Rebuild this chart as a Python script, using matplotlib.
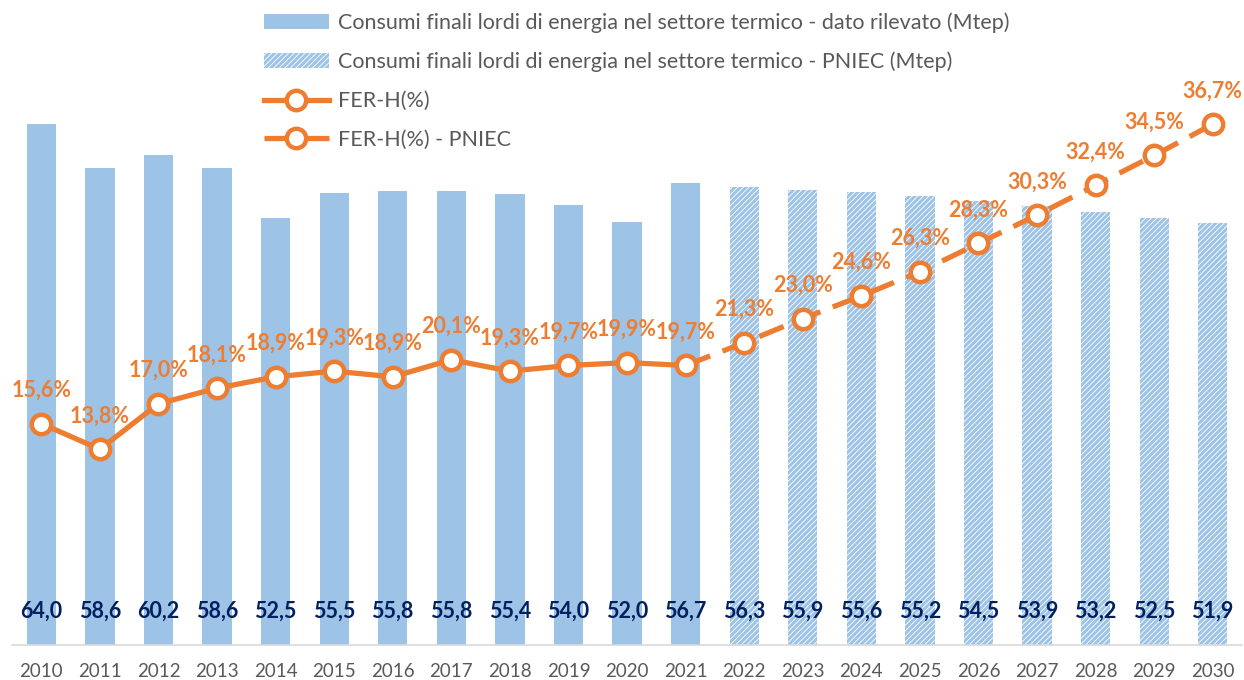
import numpy as np
import matplotlib
matplotlib.use("Agg")
import matplotlib.pyplot as plt

plt.rcParams['font.family'] = ['Lato', 'DejaVu Sans']
plt.rcParams['hatch.linewidth'] = 2.2

years = [str(y) for y in range(2010, 2031)]
consumi = [64.0, 58.6, 60.2, 58.6, 52.5, 55.5, 55.8, 55.8, 55.4, 54.0, 52.0, 56.7,
           56.3, 55.9, 55.6, 55.2, 54.5, 53.9, 53.2, 52.5, 51.9]
fer_h = [15.6, 13.8, 17.0, 18.1, 18.9, 19.3, 18.9, 20.1, 19.3, 19.7, 19.9, 19.7,
         21.3, 23.0, 24.6, 26.3, 28.3, 30.3, 32.4, 34.5, 36.7]
n_rilevato = 12  # 2010-2021 measured, then PNIEC

blue = '#9DC3E6'
orange = '#ED7D31'
navy = '#002060'
grey = '#595959'

x = np.arange(len(years))

fig = plt.figure(figsize=(12.44, 6.8), dpi=100)
ax1 = fig.add_axes([12 / 1244, 35 / 680, 1230 / 1244, 635 / 680])
ax2 = ax1.twinx()

b1 = ax1.bar(x[:n_rilevato], consumi[:n_rilevato], width=0.5, color=blue,
             linewidth=0, label='Consumi finali lordi di energia nel settore termico - dato rilevato (Mtep)')
b2 = ax1.bar(x[n_rilevato:], consumi[n_rilevato:], width=0.5, color='white',
             edgecolor=blue, hatch='//////', linewidth=0,
             label='Consumi finali lordi di energia nel settore termico - PNIEC (Mtep)')

for xi, v in zip(x, consumi):
    ax1.annotate(f'{v:.1f}'.replace('.', ','), (xi, 0), xytext=(0, 24),
                 textcoords='offset points', ha='center', va='center',
                 fontsize=15.5, fontweight='bold', color=navy)

ax1.set_xlim(-0.5, len(years) - 0.5)
ax1.set_ylim(0, 635 / 8.14)
ax1.set_xticks(x)
ax1.set_xticklabels(years, fontsize=13.5, color=grey)
ax1.tick_params(axis='x', length=0, pad=13)
ax1.set_yticks([])
for s in ['top', 'left', 'right']:
    ax1.spines[s].set_visible(False)
ax1.spines['bottom'].set_color('#D9D9D9')
ax1.spines['bottom'].set_linewidth(1.2)

l1, = ax2.plot(x[:n_rilevato], fer_h[:n_rilevato], color=orange, lw=3.8,
               marker='o', markersize=14, markerfacecolor='white',
               markeredgecolor=orange, markeredgewidth=3.2, label='FER-H(%)')
l2, = ax2.plot(x[n_rilevato - 1:], fer_h[n_rilevato - 1:], color=orange, lw=3.8,
               dashes=(5, 2.5), marker='o', markersize=14, markerfacecolor='white',
               markeredgecolor=orange, markeredgewidth=3.2,
               markevery=list(range(1, len(years) - n_rilevato + 1)),
               label='FER-H(%) - PNIEC')
l1.set_zorder(3)

for xi, v in zip(x, fer_h):
    ax2.annotate(f'{v:.1f}%'.replace('.', ','), (xi, v), xytext=(0, 24),
                 textcoords='offset points', ha='center', va='center',
                 fontsize=15.5, fontweight='bold', color=orange)

ax2.set_ylim(0, 635 / 14.19)
ax2.set_yticks([])
for s in ['top', 'left', 'right', 'bottom']:
    ax2.spines[s].set_visible(False)

fig.legend(handles=[b1, b2, l1, l2], loc='upper left',
           bbox_to_anchor=(264 / 1244, 1 - 12 / 680), frameon=False,
           fontsize=15.5, handlelength=3.0, handletextpad=0.45, labelspacing=0.88,
           labelcolor=grey, borderaxespad=0, borderpad=0)

fig.savefig('out.png', dpi=100)
